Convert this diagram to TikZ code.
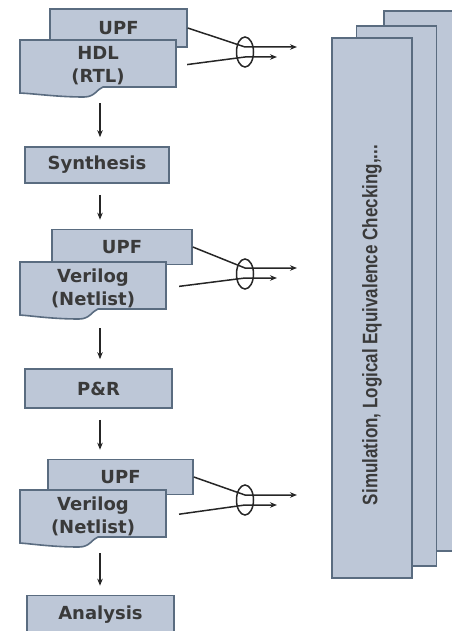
\documentclass[tikz,border=0pt]{standalone}
\usepackage{fontspec}
\setmainfont{DejaVu Sans}
\newfontfamily\sidefont{Liberation Sans}
\usetikzlibrary{arrows.meta,shapes.geometric}
\tikzset{>={Stealth[length=7pt,width=5.5pt]}}

\definecolor{boxfill}{HTML}{BDC7D7}
\definecolor{boxline}{HTML}{5A6C80}
\definecolor{labeltext}{HTML}{3A3A3A}

% document outline: centre, half width
\newcommand{\docoutline}[2]{%
  \filldraw[docline, shift={(#1)}] (-#2,-26) -- (#2,-26) -- (#2,21) -- (5,21)
    .. controls (-1,23) and (-3,31) .. (-14,31)
    .. controls (-40,31) and (-60,28) .. (-#2,27) -- cycle;}

\begin{document}
\begin{tikzpicture}[
    x=1pt, y=-1pt,
    every node/.style={font=\fontsize{18}{23}\selectfont\bfseries, text=labeltext},
    procbox/.style={draw=boxline, line width=1.6pt, fill=boxfill, minimum width=146pt, minimum height=38pt, inner sep=0pt},
    upfbox/.style={procbox, minimum width=140pt, minimum height=35pt},
    doctext/.style={minimum height=52pt, align=center, inner sep=0pt},
    docline/.style={draw=boxline, line width=1.6pt, fill=boxfill},
    bundle/.style={draw=black!85, ellipse, line width=1.5pt, minimum width=17pt, minimum height=30pt, inner sep=0pt},
    stackbox/.style={draw=boxline, line width=1.6pt, fill=boxfill, minimum width=80pt, minimum height=540pt},
    simlabel/.style={rotate=90, font=\sidefont\fontsize{21}{24}\selectfont\bfseries},
    flow/.style={->, line width=1.5pt, draw=black!85, shorten <=11pt, shorten >=9pt},
    bus/.style={->, line width=1.5pt, draw=black!85}
  ]
    \useasboundingbox (0,0) rectangle (451,631);

    % checking stack
    \node[stackbox] (sim3) at (424,281) {};
    \node[stackbox] (sim2) at (396.5,296) {};
    \node[stackbox] (sim1) at (372,308) {};
    \node[simlabel] (simtext) at ([yshift=-17pt]sim1.center) {\scalebox{0.81}[1]{Simulation, Logical Equivalence Checking,...}};

    % RTL stage
    \node[upfbox, minimum width=137pt, minimum height=38pt] (upf1) at (118.5,28) {UPF};
    \coordinate (d1) at (98,66);
    \docoutline{d1}{78}
    \node[doctext, minimum width=156pt] (hdl) at (d1) {HDL\\(RTL)};
    \node[bundle] (bundle1) at (245,52) {};
    \coordinate (outhi1) at (297,47);
    \coordinate (outlo1) at (277,57);
    \draw[bus] (upf1.east) -- (bundle1.center |- outhi1) -- (outhi1);
    \draw[bus, shorten <=11pt] (hdl.east) -- (bundle1.center |- outlo1) -- (outlo1);

    \node[procbox, minimum width=144pt, minimum height=36pt] (synth) at (97,165) {Synthesis};

    % netlist stage
    \node[upfbox] (upf2) at (122,247) {UPF};
    \coordinate (d2) at (93,288);
    \docoutline{d2}{73}
    \node[doctext, minimum width=146pt] (net1) at (d2) {Verilog\\(Netlist)};
    \node[bundle] (bundle2) at (245,274) {};
    \coordinate (outhi2) at (297,268);
    \coordinate (outlo2) at (277,278);
    \draw[bus] (upf2.east) -- (bundle2.center |- outhi2) -- (outhi2);
    \draw[bus, shorten <=13pt] (net1.east) -- (bundle2.center |- outlo2) -- (outlo2);

    \node[procbox, minimum width=147pt, minimum height=39pt] (pr) at (98.5,388.5) {P\&R};

    % layout stage
    \node[upfbox, minimum width=145pt] (upf3) at (120.5,477) {UPF};
    \coordinate (d3) at (93,516);
    \docoutline{d3}{73}
    \node[doctext, minimum width=146pt] (net2) at (d3) {Verilog\\(Netlist)};
    \node[bundle] (bundle3) at (245,500) {};
    \coordinate (outhi3) at (297,495);
    \coordinate (outlo3) at (277,505);
    \draw[bus] (upf3.east) -- (bundle3.center |- outhi3) -- (outhi3);
    \draw[bus, shorten <=13pt] (net2.east) -- (bundle3.center |- outlo3) -- (outlo3);

    \node[procbox, minimum width=147pt, minimum height=39pt] (ana) at (100.5,615) {Analysis};

    % flow, all on one vertical line
    \coordinate (spine) at (100,0);
    \draw[flow] (hdl.south -| spine) -- (synth.north -| spine);
    \draw[flow] (synth.south -| spine) -- (upf2.north -| spine);
    \draw[flow, shorten <=14pt] (net1.south -| spine) -- (pr.north -| spine);
    \draw[flow] (pr.south -| spine) -- (upf3.north -| spine);
    \draw[flow] (net2.south -| spine) -- (ana.north -| spine);
  \end{tikzpicture}
\end{document}
